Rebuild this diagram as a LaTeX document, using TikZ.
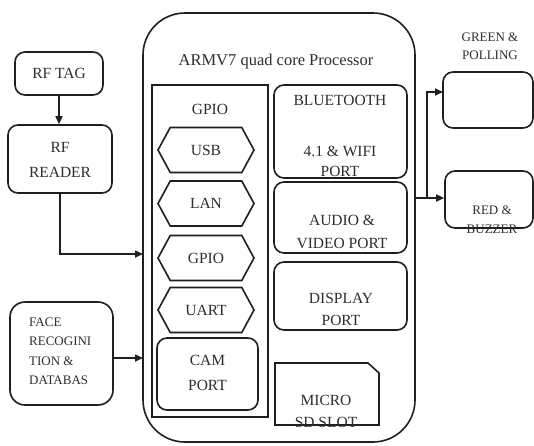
\documentclass[tikz,border=0pt]{standalone}
\usepackage{fontspec}
\setmainfont{Liberation Serif}
\usetikzlibrary{arrows.meta,shapes.symbols}
\definecolor{ln}{gray}{0.12}
\definecolor{tx}{gray}{0.18}
\begin{document}
\begin{tikzpicture}[x=1pt,y=-1pt,
  rbox/.style={draw=ln, line width=1.6pt, rounded corners=10pt, inner sep=0pt},
  sbox/.style={draw=ln, line width=1.6pt, inner sep=0pt},
  txt/.style={font=\fontsize{15.5}{21}\selectfont, text=tx, align=center, inner sep=0pt},
  stxt/.style={font=\fontsize{13}{18.5}\selectfont, text=tx, align=center, inner sep=0pt},
  hexa/.style={draw=ln, line width=1.6pt, shape=signal, signal to=west and east,
    signal pointer angle=123, minimum width=96pt, minimum height=45pt, inner sep=0pt,
    font=\fontsize{15.5}{21}\selectfont, text=tx},
  conn/.style={draw=ln, line width=1.6pt},
  arr/.style={conn, -{Triangle[length=8pt,width=7pt]}}
]
\useasboundingbox (0,0) rectangle (534,445);
\fill[white] (0,0) rectangle (534,445);

% processor
\node[draw=ln, line width=1.6pt, rounded corners=42pt, minimum width=272pt, minimum height=429pt, inner sep=0pt] (proc) at (279,227.5) {};
\node[txt, font=\fontsize{16.5}{21}\selectfont] (title) at (276,62) {ARMV7 quad core Processor};

% GPIO column
\node[sbox, minimum width=116pt, minimum height=332pt] (gpiobox) at (210,251) {};
\node[txt] (gpiolbl) at (210,109) {GPIO};
\node[hexa] (usb) at (206,150) {USB};
\node[hexa] (lan) at (206,203.5) {LAN};
\node[hexa] (gpio) at (206,258) {GPIO};
\node[hexa] (uart) at (206,310) {UART};
\node[rbox, minimum width=101pt, minimum height=72pt] (cam) at (207.5,374) {};
\node[txt] (camA) at (207.5,360) {CAM};
\node[txt] (camB) at (207.5,385) {PORT};

% right column
\node[rbox, minimum width=133pt, minimum height=93pt] (bt) at (340.5,131.5) {};
\node[txt] (btA) at (340,100) {BLUETOOTH};
\node[txt] (btB) at (340,151) {4.1 \& WIFI};
\node[txt] (btC) at (340,171) {PORT};
\node[rbox, minimum width=133pt, minimum height=71pt] (av) at (340.5,217.5) {};
\node[txt] (avA) at (342,220) {AUDIO \&};
\node[txt] (avB) at (342,243) {VIDEO PORT};
\node[rbox, minimum width=133pt, minimum height=68pt] (disp) at (340.5,296) {};
\node[txt] (dispA) at (341,298) {DISPLAY};
\node[txt] (dispB) at (341,320) {PORT};
\draw[draw=ln, line width=1.6pt] (275,363) -- (368,363) -- (379,373) -- (379,425) -- (275,425) -- cycle;
\node[txt] (sdA) at (326,400) {MICRO};
\node[txt] (sdB) at (326,422) {SD SLOT};

% left side
\node[rbox, minimum width=88pt, minimum height=43pt, txt] (rftag) at (59,73.5) {RF TAG};
\node[rbox, minimum width=104pt, minimum height=68pt] (rfreader) at (60,159) {};
\node[txt] (rfA) at (60,147) {RF};
\node[txt] (rfB) at (60,172) {READER};
\node[rbox, rounded corners=15pt, minimum width=103pt, minimum height=103pt] (face) at (61.5,353.5) {};
\node[stxt, align=left, anchor=west, font=\fontsize{13}{19.5}\selectfont] (facetxt) at (29,351) {FACE\\RECOGINI\\TION \&\\DATABAS};

% right side
\node[stxt] (greenlbl) at (490,46) {GREEN \&\\POLLING};
\node[rbox, minimum width=90pt, minimum height=56pt] (green) at (488,100) {};
\node[rbox, minimum width=88pt, minimum height=57pt] (red) at (489,199.5) {};
\node[stxt] (redA) at (492,210) {RED \&};
\node[stxt] (redB) at (492,229) {BUZZER};

% connectors
\coordinate (inA) at (143,254);
\coordinate (inB) at (143,358);
\coordinate (outA) at (415,198);
\coordinate (jn) at (427,198);
\coordinate (gin) at (443,92);
\draw[arr] (rftag.south) -- (rftag.south |- rfreader.north);
\draw[arr] (rfreader.south) |- (inA);
\draw[arr] (face.east |- inB) -- (inB);
\draw[conn] (outA) -- (jn);
\draw[arr] (jn) -- (red.west |- jn);
\draw[arr] (jn) |- (gin);
\end{tikzpicture}
\end{document}
